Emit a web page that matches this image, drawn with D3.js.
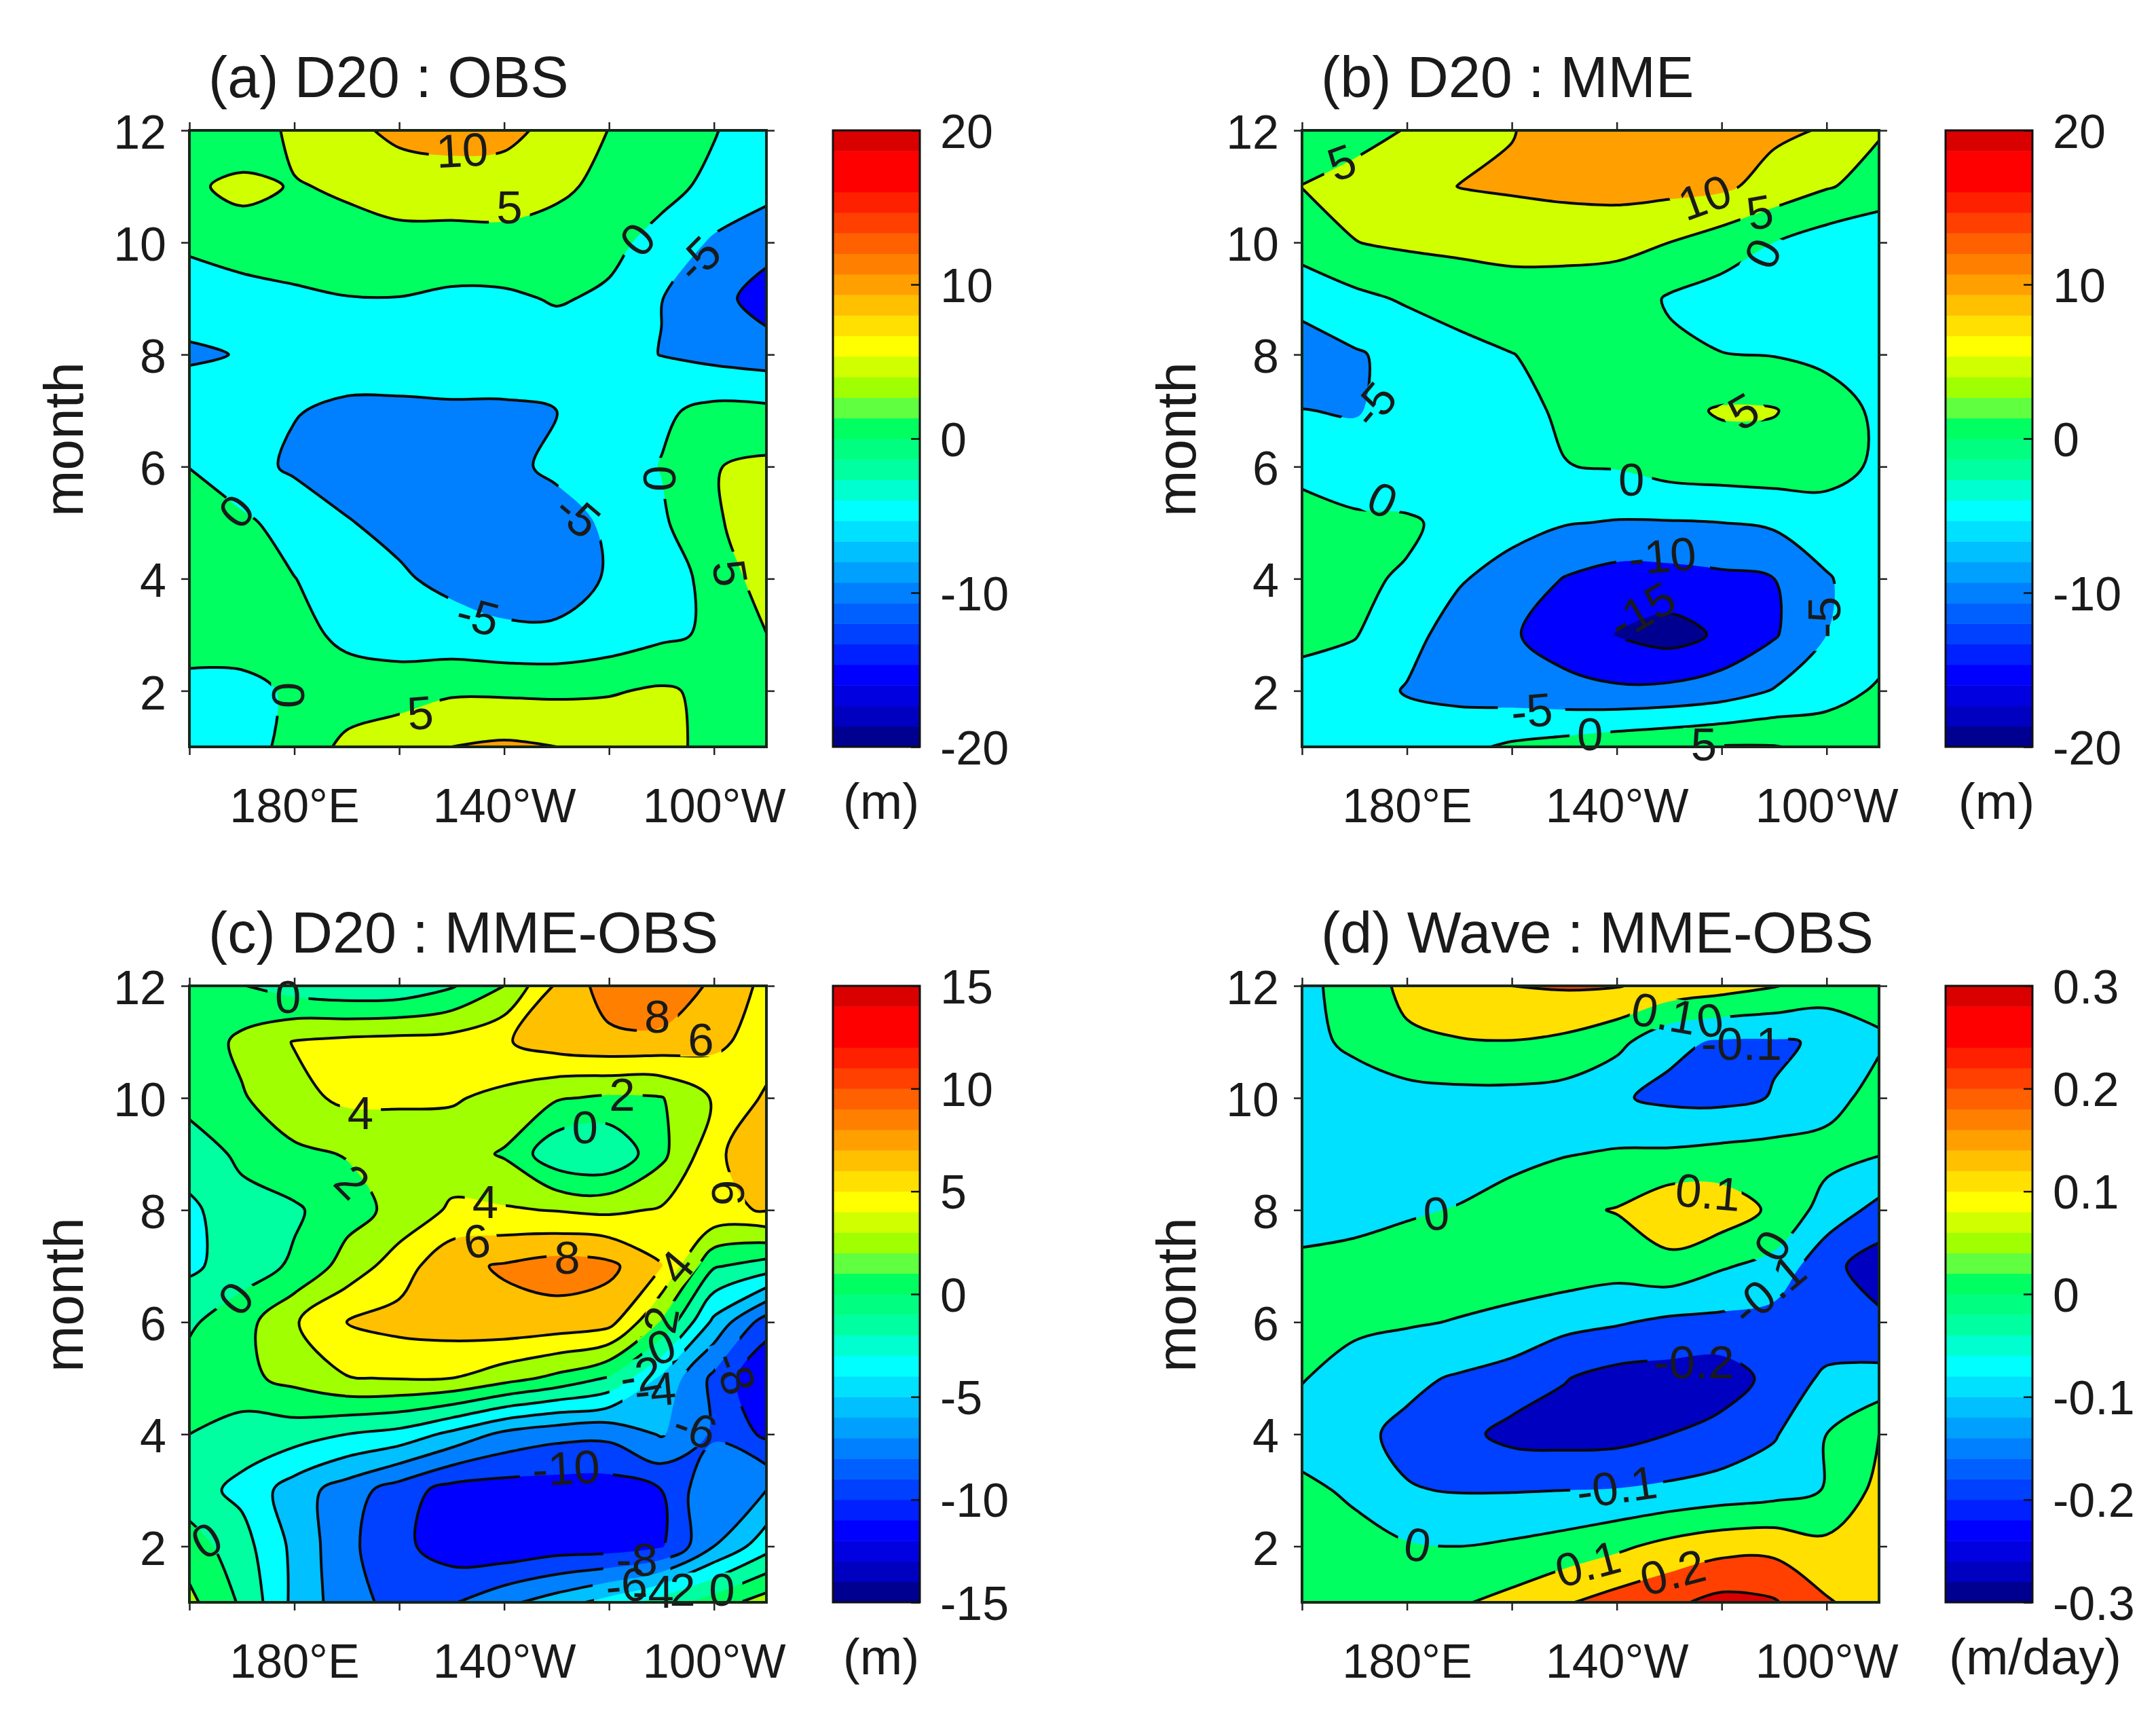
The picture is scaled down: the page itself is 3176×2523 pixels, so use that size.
<!DOCTYPE html>
<html><head><meta charset="utf-8">
<script src="https://cdnjs.cloudflare.com/ajax/libs/d3/7.9.0/d3.min.js"></script>
<style>html,body{margin:0;background:#fff}svg{display:block}text{font-family:"Liberation Sans",Arial,sans-serif;fill:#1a1a1a}</style>
</head><body><svg id="c" width="3176" height="2523"></svg>
<script>
const lons=[160,170,180,190,200,210,220,230,240,250,260,270];
const months=[12,11,10,9,8,7,6,5,4,3,2,1];
const xTicks=[160,180,200,220,240,260];
const xLabels={180:"180°E",220:"140°W",260:"100°W"};
const yTicks=[2,4,6,8,10,12];
const bandColors=["#000090","#0000c0","#0000e0","#0000ff","#0020ff","#0040ff","#0060ff","#0080ff","#00a0ff","#00c0ff","#00e0ff","#00ffff","#00ffd0","#00ffa0","#00ff80","#00ff60","#60ff40","#a0ff00","#d0ff00","#ffff00","#ffe000","#ffc000","#ffa000","#ff8000","#ff6000","#ff4000","#ff2000","#ff0000","#ff0000","#d90000"];
const gridA=[
[2,.5,6.6,9,10.9,12,11.5,8.4,4.9,2.3,.3,-3],
[4,6.5,4.6,5.8,8,7.6,7.5,5.9,3.8,1.4,-1.1,-3.4],
[1,2.2,3,3,3,3.3,3.5,3,1.2,-1.5,-5.7,-8],
[-3,-1.8,-1,-.15,-.1,-.9,-.8,.4,-.7,-4.9,-8,-12.5],
[-5.6,-4.8,-3.2,-3,-3,-3,-3,-2.5,-3.5,-5.1,-6.5,-7.5],
[-2.5,-3.5,-4.8,-5.7,-5.7,-5.5,-5.5,-5,-3,-.8,1.3,1.1],
[-.1,-3.4,-5.7,-6.5,-7,-7,-6.5,-3.8,-2.5,.2,4.8,6],
[3,1,-2.1,-4.8,-6,-7.5,-8,-7.5,-4,-.8,4.5,7],
[3.5,2,.1,-2.4,-4.5,-6,-7,-6.5,-4.7,-1.5,1,8],
[3,2.5,1,-.7,-2.3,-3.3,-4.2,-4.4,-3,-1,.8,4.9],
[-2,-1.5,.8,1.5,2.5,4.3,4.2,4.1,4.6,5.6,4,3],
[-2.5,-1.3,1,6.5,8.5,10,10.8,10,8.5,6.5,3.5,3]];
const gridB=[
[2,3.5,5.2,8,9.8,12,13,13,12.5,11,9.6,5.4],
[5.1,6.5,8,10.1,10.7,11.5,12,11.5,11,8,5.4,3.2],
[2,4.9,5.8,6.2,6.5,6.3,6,5,2.5,0,-2.5,-4],
[-3,-1.2,.6,2,3,3.2,3,-.5,-2,-3,-3.5,-4],
[-8,-5.5,-3.5,-1.5,-.1,1.3,2,1,.1,-.2,-1,-3],
[-4.9,-5.3,-3.5,-2.5,-1,.5,2.5,3.5,5.5,5.3,2,-.8],
[-1,-3,-4,-3.8,-2.5,-.1,.3,2,2.5,2.7,2.3,-1],
[1.5,1,.8,-1.7,-3.5,-4.7,-5.3,-5.3,-5,-4.2,-3,-1.5],
[2,.8,-.5,-4.6,-6.8,-10.2,-12,-11.8,-11,-10,-5.3,-3],
[1,.3,-3.5,-7,-9.5,-12.3,-15.2,-17,-14.2,-10.5,-5,-2.5],
[-1.5,-3,-5.3,-6.5,-7.5,-8.5,-9.2,-8.8,-7.5,-4.7,-2.2,.7],
[-2,-2.5,-2.5,-1.2,.8,2,3.5,4.5,5.3,5.2,3.8,4.4]];
const gridC=[
[1,.1,-1,-1.6,-1.5,-.2,2,6.3,9,10,7.5,5.5],
[.5,2.5,4.1,4.5,4.7,4.8,5.8,7,7.5,7.3,6.5,5],
[.5,1.8,3.4,4.4,4.3,4.2,3.5,2.2,1.7,1.9,4.2,6.3],
[-.8,.3,1.6,2.1,2.8,2.9,1.8,-1.5,-1.9,1.5,5.4,8],
[-2.5,-.5,-.3,1.2,2.6,4.3,4.2,3.9,3.6,4.2,5.7,6.1],
[-2.4,-1,.3,2.8,5,7.5,8.2,8.9,8.5,6.1,.2,-.9],
[-.3,1.2,3.8,6,6.7,7,7.4,7.2,6.7,1.8,-4.5,-9],
[.8,1.5,2.6,3.9,4.1,4,2.8,1.5,-.2,-4.4,-8.5,-12],
[0,-1,-1.1,-2,-2.7,-4.5,-6.5,-7.4,-7.5,-5.8,-8.3,-10.4],
[-1.2,-2.5,-5,-7,-9,-10.8,-11,-11,-11,-10,-6.2,-6],
[1,-1.2,-4.5,-7.5,-9.5,-11,-11.5,-11,-11,-10.2,-6,-2.8],
[2.5,-.3,-4.5,-7.2,-8.7,-8.2,-6.5,-5,-3.2,-1,1,3]];
const gridD=[
[-.02,.03,.13,.16,.2,.21,.205,.17,.14,.105,.06,.03],
[-.03,.02,.08,.095,.097,.08,.03,-.08,-.11,-.11,-.09,-.01],
[-.07,-.05,-.04,-.03,-.03,-.04,-.09,-.12,-.125,-.095,-.03,.03],
[-.07,-.06,-.05,-.04,-.02,-.005,.01,.015,.03,.04,.03,.005],
[-.04,-.03,-.01,.005,.03,.08,.105,.17,.16,.08,-.04,-.13],
[.02,.03,.04,.05,.06,.06,.04,.07,.01,-.03,-.17,-.25],
[.03,.02,.01,-.005,-.03,-.07,-.09,-.12,-.125,-.14,-.17,-.18],
[.005,-.04,-.08,-.11,-.14,-.195,-.235,-.24,-.25,-.17,-.08,-.07],
[-.04,-.08,-.12,-.17,-.23,-.24,-.235,-.2,-.165,-.11,0,.1],
[.02,-.015,-.095,-.105,-.105,-.1,-.095,-.08,-.06,-.04,.005,.13],
[.05,.03,.01,0,.015,.04,.08,.13,.165,.17,.125,.15],
[.06,.06,.06,.09,.13,.19,.24,.28,.33,.31,.21,.15]];
const levelsAB=[-15,-10,-5,0,5,10,15];
const levelsC=[-10,-8,-6,-4,-2,0,2,4,6,8,10,12];
const levelsD=[-.2,-.1,0,.1,.2,.3];
const labelsA=[["10",212,11.64,-3],["5",221,10.62,0],["0",245.5,10.05,-50],["-5",257,9.7,-45],["-5",234,5.13,40],["-5",215,3.33,15],["0",249.6,5.79,90],["5",263,4.1,80],["0",169,5.2,-50],["0",178.8,1.92,90],["5",204,1.6,-5]];
const labelsB=[["5",167.6,11.42,-20],["10",236.8,10.8,-20],["5",247.3,10.53,-10],["0",247.9,9.8,-65],["5",244.2,6.98,-30],["-5",173.7,7.1,-50],["0",175.3,5.4,25],["0",222.8,5.77,0],["-10",228.7,4.4,-5],["-15",224.8,3.42,-30],["-5",259.6,3.31,-90],["-5",203.8,1.64,-5],["0",214.9,1.23,0],["5",236.6,1.04,0]];
const labelsC=[["0",178.8,11.8,0],["8",249.2,11.45,0],["6",257.5,11.04,0],["4",192.6,9.73,0],["2",242.5,10.05,0],["0",235.4,9.48,0],["2",191,8.5,45],["4",216.4,8.14,0],["6",214.8,7.44,-10],["8",232,7.15,0],["4",252.8,6.98,-50],["0",168.9,6.42,-50],["2",250,6.04,-80],["0",250,5.55,-20],["-2",246,5.05,-10],["-4",248.8,4.79,-5],["-8",263.9,5.09,70],["-6",256.4,4.1,20],["-10",231.8,3.39,-3],["0",163.3,2.1,-30],["-8",245.3,1.76,0],["-6",243.3,1.3,-5],["-4",248.4,1.19,0],["2",254,1.23,0],["0",261.5,1.23,0],["6",262.7,8.31,90]];
const labelsD=[["0.1",229,11.5,10],["0",237.8,11.38,-10],["-0.1",243.8,10.96,0],["0.1",237.4,8.31,5],["0",185.6,7.93,-5],["0",249.7,7.36,-60],["-0.1",248.9,6.57,-40],["-0.2",234.7,5.28,0],["-0.1",220,3.05,-8],["0",182,2.02,10],["0.1",214.5,1.68,-15],["0.2",230.7,1.53,-15]];
const titles=["(a) D20 : OBS","(b) D20 : MME","(c) D20 : MME-OBS","(d) Wave : MME-OBS"];
const units=["(m)","(m)","(m)","(m/day)"];
const unitShift=[7,11,7,68];
const cbTicks=[[-20,-10,0,10,20],[-20,-10,0,10,20],[-15,-10,-5,0,5,10,15],[-.3,-.2,-.1,0,.1,.2,.3]];
const cbRanges=[[-20,20],[-20,20],[-15,15],[-.3,.3]];
const baseLevels=[-20,-20,-12,-.27];
const levels=[levelsAB,levelsAB,levelsC,levelsD];
const grids=[gridA,gridB,gridC,gridD];
const labels=[labelsA,labelsB,labelsC,labelsD];

const svg=d3.select("#c");
const W=850,H=908,TICK=12,FS=70,LFS=69;
const lefts=[279,1918,279,1918], tops=[192,192,1452,1452];
const openCurve=d3.line().curve(d3.curveCatmullRom.alpha(.5));
const closedCurve=d3.line().curve(d3.curveCatmullRomClosed.alpha(.5));

function panel(k){
  const x0=lefts[k],y0=tops[k];
  const x=d3.scaleLinear().domain([160,270]).range([0,W]);
  const y=d3.scaleLinear().domain([1,12]).range([H,0]);
  const ix=d3.scaleLinear().domain([0,lons.length-1]).range([lons[0],lons[lons.length-1]]);
  const iy=d3.scaleLinear().domain([0,months.length-1]).range([months[0],months[months.length-1]]);
  const nx=lons.length,ny=months.length;
  const cl=(v,m)=>Math.max(0,Math.min(m,v));
  const pt=p=>[x(ix(cl(p[0]-.5,nx-1))),y(iy(cl(p[1]-.5,ny-1)))];
  const g=svg.append("g").attr("transform",`translate(${x0},${y0})`);
  const [lo,hi]=cbRanges[k];
  const band=v=>bandColors[Math.max(0,Math.min(29,Math.floor((v-lo)/(hi-lo)*30+1e-6)))];
  const clipId="clip"+k,maskId="mask"+k;
  const defs=g.append("defs");
  defs.append("clipPath").attr("id",clipId).append("rect").attr("width",W).attr("height",H);
  const mask=defs.append("mask").attr("id",maskId).attr("maskUnits","userSpaceOnUse").attr("x",0).attr("y",0).attr("width",W).attr("height",H);
  mask.append("rect").attr("width",W).attr("height",H).attr("fill","#fff");
  labels[k].forEach(l=>{
    const w=l[0].replace(".","").length*LFS*.556+22,h=LFS*.72;
    mask.append("rect").attr("x",-w/2).attr("y",-h/2).attr("width",w).attr("height",h).attr("fill","#000")
      .attr("transform",`translate(${x(l[1])},${y(l[2])}) rotate(${l[3]})`);
  });
  const body=g.append("g").attr("clip-path",`url(#${clipId})`);
  body.append("rect").attr("width",W).attr("height",H).attr("fill",band(baseLevels[k]));
  const flat=grids[k].flat();
  const cs=d3.contours().size([nx,ny]).thresholds(levels[k]).smooth(true)(flat);
  let lineD="";
  const onEdge=(a,b)=>(a[0]===b[0]&&(a[0]===0||a[0]===W))||(a[1]===b[1]&&(a[1]===0||a[1]===H));
  function ringPaths(rawPts){
    const pts=rawPts.filter((p,i)=>i===0||Math.hypot(p[0]-rawPts[i-1][0],p[1]-rawPts[i-1][1])>.01);
    if(pts.length>1&&pts[0][0]===pts[pts.length-1][0]&&pts[0][1]===pts[pts.length-1][1])pts.pop();
    const n=pts.length;
    if(n<3)return {fill:"",line:""};
    let s=-1;
    for(let i=0;i<n;i++){if(onEdge(pts[(i+n-1)%n],pts[i])){s=i;break;}}
    if(s<0){const d=closedCurve(pts);return {fill:d,line:d};}
    let fill="M"+pts[s].join(","),line="",run=[pts[s]];
    const flush=()=>{if(run.length>1){const d=openCurve(run);fill+=d.replace(/^M/,"L");line+=d;}};
    for(let j=1;j<=n;j++){
      const a=pts[(s+j-1)%n],b=pts[(s+j)%n];
      if(onEdge(a,b)){flush();fill+="L"+b.join(",");run=[b];}
      else run.push(b);
    }
    flush();
    return {fill:fill+"Z",line};
  }
  cs.forEach(c=>{
    let d="";
    c.coordinates.forEach(poly=>poly.forEach(ring=>{
      const r=ringPaths(ring.map(pt));
      d+=r.fill;lineD+=r.line;
    }));
    if(d) body.append("path").attr("d",d).attr("fill",band(c.value)).attr("fill-rule","evenodd");
  });
  body.append("path").attr("d",lineD).attr("fill","none").attr("stroke","#0a0a0a").attr("stroke-width",4)
    .attr("stroke-linejoin","round").attr("mask",`url(#${maskId})`);
  labels[k].forEach(l=>{
    g.append("text").text(l[0]).attr("font-size",LFS).attr("text-anchor","middle").attr("dominant-baseline","central")
      .attr("transform",`translate(${x(l[1])},${y(l[2])}) rotate(${l[3]})`);
  });
  g.append("rect").attr("width",W).attr("height",H).attr("fill","none").attr("stroke","#16261a").attr("stroke-width",4);
  const style=a=>{a.select(".domain").remove();a.selectAll("line").attr("stroke","#222").attr("stroke-width",2.5);a.selectAll("text").attr("font-size",FS).attr("font-family",null).attr("fill","#1a1a1a");};
  const ba=g.append("g").attr("transform",`translate(0,${H})`).call(d3.axisBottom(x).tickValues(xTicks).tickSize(TICK).tickPadding(49).tickFormat(d=>xLabels[d]||"")).call(style);
  ba.selectAll("text").filter(d=>!xLabels[d]).remove();
  const ta=g.append("g").call(d3.axisTop(x).tickValues(xTicks).tickSize(TICK).tickFormat("")).call(style);
  ta.selectAll("text").remove();
  const la=g.append("g").call(d3.axisLeft(y).tickValues(yTicks).tickSize(TICK).tickPadding(22)).call(style);
  la.selectAll("text").attr("dy","0.38em");
  const ra=g.append("g").attr("transform",`translate(${W},0)`).call(d3.axisRight(y).tickValues(yTicks).tickSize(TICK).tickFormat("")).call(style);
  ra.selectAll("text").remove();
  g.append("text").text("month").attr("font-size",82).attr("text-anchor","middle")
    .attr("transform",`translate(${-186},${H/2+1}) rotate(-90)`).attr("dominant-baseline","central");
  svg.append("text").text(titles[k]).attr("x",x0+28).attr("y",y0-49).attr("font-size",84.5);
  const cx=x0+948,cw=128;
  const cy=d3.scaleLinear().domain([lo,hi]).range([H,0]);
  const cb=svg.append("g").attr("transform",`translate(${cx},${y0})`);
  const bh=H/30;
  cb.selectAll("rect.b").data(bandColors).join("rect").attr("class","b")
    .attr("x",0).attr("width",cw).attr("y",(d,i)=>cy(lo+(hi-lo)*(i+1)/30)).attr("height",bh+.5).attr("fill",d=>d);
  cb.append("rect").attr("width",cw).attr("height",H).attr("fill","none").attr("stroke","#111").attr("stroke-width",3);
  const ca=cb.append("g").attr("transform",`translate(${cw},0)`).call(d3.axisRight(cy).tickValues(cbTicks[k]).tickSizeInner(-13).tickSizeOuter(0).tickPadding(30).tickFormat(d=>String(d)));
  ca.select(".domain").remove();ca.selectAll("line").attr("stroke","#111").attr("stroke-width",2.5);ca.selectAll("text").attr("font-size",FS).attr("font-family",null).attr("fill","#1a1a1a").attr("dy","0.36em");
  svg.append("text").text(units[k]).attr("x",cx+cw/2+unitShift[k]).attr("y",y0+H+106).attr("font-size",75).attr("text-anchor","middle");
}
d3.range(4).forEach(panel);
</script></body></html>
